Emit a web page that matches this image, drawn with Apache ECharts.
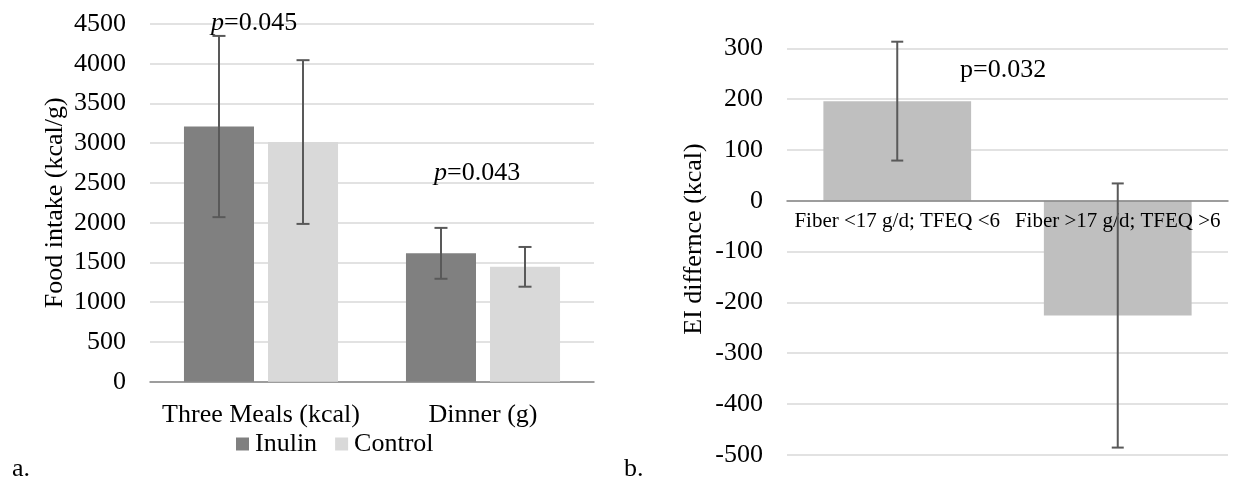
<!DOCTYPE html>
<html><head><meta charset="utf-8">
<script src="https://cdn.jsdelivr.net/npm/echarts@6/dist/echarts.min.js"></script>
<style>html,body{margin:0;padding:0;background:#fff}#c{width:1237px;height:483px}</style>
</head><body><div id="c"></div>
<script>
// ---- data: panel a ----
const categoriesA = ['Three Meals (kcal)', 'Dinner (g)'];
const inulin = [3210, 1615];
const inulinErr = [1140, 320];
const control = [3015, 1445];
const controlErr = [1030, 250];
const yTicksA = [0, 500, 1000, 1500, 2000, 2500, 3000, 3500, 4000, 4500];
// ---- data: panel b ----
const categoriesB = ['Fiber <17 g/d; TFEQ <6', 'Fiber >17 g/d; TFEQ >6'];
const eiDiff = [196, -226];
const eiErr = [117, 260];
const yTicksB = [-500, -400, -300, -200, -100, 0, 100, 200, 300];

const FONT = "'Liberation Serif','Times New Roman',serif";
const chart = echarts.init(document.getElementById('c'));

const CAT_GAP_A = 0.306, BAR_GAP_A = 0.2, CAT_GAP_B = 0.33;

function errorBars(axisIdx, values, errs, nSeries, idx, catGap, barGap, cap) {
  return {
    type: 'custom', name: 'err' + axisIdx + '_' + idx,
    xAxisIndex: axisIdx, yAxisIndex: axisIdx, z: 6, silent: true,
    data: values.map((v, i) => [i, v - errs[i], v + errs[i]]),
    encode: { x: 0, y: [1, 2] },
    renderItem(params, api) {
      const i = api.value(0);
      const lo = api.coord([i, api.value(1)]);
      const hi = api.coord([i, api.value(2)]);
      const cw = api.size([1, 0])[0];
      const bw = cw * (1 - catGap) / (nSeries + (nSeries - 1) * barGap);
      const groupW = bw * nSeries + bw * barGap * (nSeries - 1);
      const x = lo[0] - groupW / 2 + bw / 2 + idx * bw * (1 + barGap);
      const style = { stroke: '#595959', lineWidth: 2 };
      return { type: 'group', children: [
        { type: 'line', shape: { x1: x, y1: hi[1], x2: x, y2: lo[1] }, style },
        { type: 'line', shape: { x1: x - cap / 2, y1: hi[1], x2: x + cap / 2, y2: hi[1] }, style },
        { type: 'line', shape: { x1: x - cap / 2, y1: lo[1], x2: x + cap / 2, y2: lo[1] }, style }
      ]};
    }
  };
}

const axisLabelStyle = { color: '#000', fontFamily: FONT, fontSize: 26, formatter: v => String(v) };

const option = {
  animation: false,
  backgroundColor: '#fff',
  textStyle: { fontFamily: FONT, color: '#000' },
  grid: [
    { left: 150, top: 24, width: 444, height: 357.7 },
    { left: 787, top: 48.3, width: 441, height: 406.4 }
  ],
  legend: {
    data: ['Inulin', 'Control'],
    left: 231, top: 426,
    icon: 'rect', itemWidth: 13, itemHeight: 13, itemGap: 18,
    textStyle: { color: '#000', fontFamily: FONT, fontSize: 26, padding: [0, 0, 0, 1] },
    selectedMode: false
  },
  xAxis: [
    { type: 'category', gridIndex: 0, data: categoriesA,
      axisLine: { lineStyle: { color: '#868686', width: 1.5 } },
      axisTick: { show: false },
      axisLabel: { margin: 20, interval: 0, color: '#000', fontFamily: FONT, fontSize: 26 } },
    { type: 'category', gridIndex: 1, data: categoriesB, z: 4,
      axisLine: { onZero: true, lineStyle: { color: '#868686', width: 1.5 } },
      axisTick: { show: false },
      axisLabel: { show: false } }
  ],
  yAxis: [
    { type: 'value', gridIndex: 0, min: yTicksA[0], max: yTicksA[yTicksA.length - 1], interval: 500,
      name: 'Food intake (kcal/g)', nameLocation: 'middle', nameGap: 82,
      nameTextStyle: { color: '#000', fontFamily: FONT, fontSize: 26 },
      axisLine: { show: false }, axisTick: { show: false },
      axisLabel: Object.assign({ margin: 24 }, axisLabelStyle),
      splitLine: { lineStyle: { color: '#D9D9D9', width: 1.5 } } },
    { type: 'value', gridIndex: 1, min: yTicksB[0], max: yTicksB[yTicksB.length - 1], interval: 100,
      name: 'EI differnce (kcal)', nameLocation: 'middle', nameGap: 80,
      nameTextStyle: { color: '#000', fontFamily: FONT, fontSize: 26, padding: [0, 0, 0, 25] },
      axisLine: { show: false }, axisTick: { show: false },
      axisLabel: Object.assign({ margin: 24 }, axisLabelStyle),
      splitLine: { lineStyle: { color: '#D9D9D9', width: 1.5 } } }
  ],
  series: [
    { type: 'bar', name: 'Inulin', xAxisIndex: 0, yAxisIndex: 0, data: inulin,
      itemStyle: { color: '#808080' }, barCategoryGap: (CAT_GAP_A * 100) + '%', barGap: (BAR_GAP_A * 100) + '%', z: 2 },
    { type: 'bar', name: 'Control', xAxisIndex: 0, yAxisIndex: 0, data: control,
      itemStyle: { color: '#D9D9D9' }, barCategoryGap: (CAT_GAP_A * 100) + '%', barGap: (BAR_GAP_A * 100) + '%', z: 2 },
    errorBars(0, inulin, inulinErr, 2, 0, CAT_GAP_A, BAR_GAP_A, 13),
    errorBars(0, control, controlErr, 2, 1, CAT_GAP_A, BAR_GAP_A, 13),
    { type: 'bar', name: 'EI', xAxisIndex: 1, yAxisIndex: 1, data: eiDiff,
      itemStyle: { color: '#BFBFBF' }, barCategoryGap: (CAT_GAP_B * 100) + '%', z: 2 },
    // category labels of panel b, sitting next to the zero line
    { type: 'custom', name: 'catLabelsB', xAxisIndex: 1, yAxisIndex: 1, z: 5, silent: true,
      data: categoriesB.map((c, i) => [i, 0]),
      encode: { x: 0, y: 1 },
      renderItem(params, api) {
        const p = api.coord([api.value(0), api.value(1)]);
        return { type: 'text', x: p[0], y: p[1] + 10, style: {
          text: categoriesB[params.dataIndex], fontFamily: FONT, fontSize: 21, fill: '#000',
          align: 'center', verticalAlign: 'top' } };
      } },
    errorBars(1, eiDiff, eiErr, 1, 0, CAT_GAP_B, 0, 12)
  ],
  graphic: [
    { type: 'text', left: 211, top: 10, z: 10, style: {
      text: '{i|p}{n|=0.045}', rich: {
        i: { fontFamily: FONT, fontSize: 26, fontStyle: 'italic', fill: '#000' },
        n: { fontFamily: FONT, fontSize: 26, fill: '#000' } } } },
    { type: 'text', left: 434, top: 160, z: 10, style: {
      text: '{i|p}{n|=0.043}', rich: {
        i: { fontFamily: FONT, fontSize: 26, fontStyle: 'italic', fill: '#000' },
        n: { fontFamily: FONT, fontSize: 26, fill: '#000' } } } },
    { type: 'text', left: 960, top: 57, z: 10, style: {
      text: 'p=0.032', fontFamily: FONT, fontSize: 26, fill: '#000' } },
    { type: 'text', left: 12, top: 456, style: { text: 'a.', fontFamily: FONT, fontSize: 26, fill: '#000' } },
    { type: 'text', left: 624, top: 456, style: { text: 'b.', fontFamily: FONT, fontSize: 26, fill: '#000' } }
  ]
};
chart.setOption(option);
</script>
</body></html>
